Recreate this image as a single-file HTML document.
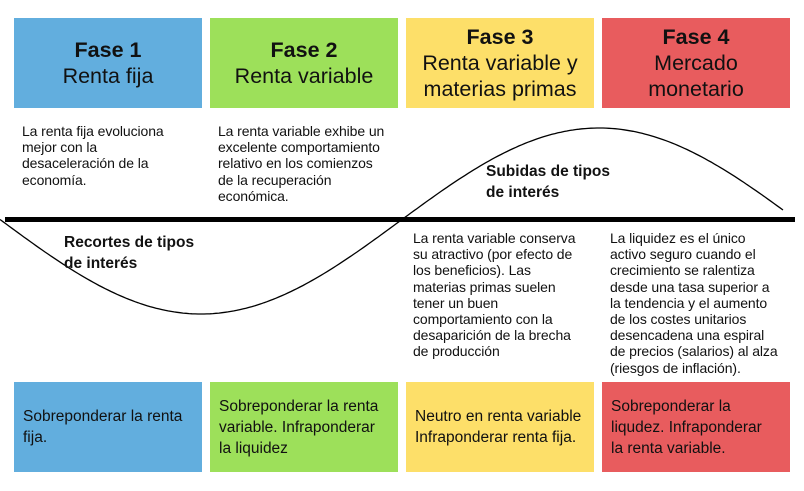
<!DOCTYPE html>
<html><head><meta charset="utf-8"><style>
body{margin:0;width:804px;height:491px;background:#fff;position:relative;overflow:hidden;font-family:"Liberation Sans",Arial,sans-serif;color:#111}
.b{position:absolute;width:188px;height:90px;display:flex;flex-direction:column;justify-content:center;align-items:center;text-align:center;font-size:21.5px;line-height:26px}
.b b{font-size:21.5px}
.t{position:absolute;font-size:14px;line-height:16.2px;letter-spacing:-0.1px}
.bt{position:absolute;width:188px;height:90px;display:flex;align-items:center;font-size:15.5px;line-height:21px;box-sizing:border-box;padding-left:9px}
.bl{background:#62aede}.gr{background:#9de05a}.ye{background:#fddf69}.re{background:#e85c5e}
.h{position:absolute;font-size:15.5px;font-weight:bold;line-height:21px}
</style></head><body>
<div class="b bl" style="left:14px;top:18px"><b>Fase 1</b>Renta fija</div>
<div class="b gr" style="left:210px;top:18px"><b>Fase 2</b>Renta variable</div>
<div class="b ye" style="left:406px;top:18px"><b>Fase 3</b>Renta variable y<br>materias primas</div>
<div class="b re" style="left:602px;top:18px"><b>Fase 4</b>Mercado<br>monetario</div>
<svg style="position:absolute;left:0;top:0" width="804" height="491">
<rect x="5" y="217" width="790" height="5" fill="#000"/>
<path id="c" fill="none" stroke="#000" stroke-width="1.3" d=""/>
</svg>
<script>
var d="";for(var x=0;x<=785;x+=3){var y=221+93*Math.sin(2*Math.PI*(x-2)/796);d+=(x?"L":"M")+x+" "+y.toFixed(1);}
document.getElementById("c").setAttribute("d",d);
</script>
<div class="t" style="left:22px;top:123px">La renta fija evoluciona<br>mejor con la<br>desaceleración de la<br>economía.</div>
<div class="t" style="left:218px;top:123px">La renta variable exhibe un<br>excelente comportamiento<br>relativo en los comienzos<br>de la recuperación<br>económica.</div>
<div class="h" style="left:64px;top:232px">Recortes de tipos<br>de interés</div>
<div class="h" style="left:486px;top:161px">Subidas de tipos<br>de interés</div>
<div class="t" style="left:413px;top:230px">La renta variable conserva<br>su atractivo (por efecto de<br>los beneficios). Las<br>materias primas suelen<br>tener un buen<br>comportamiento con la<br>desaparición de la brecha<br>de producción</div>
<div class="t" style="left:610px;top:230px">La liquidez es el único<br>activo seguro cuando el<br>crecimiento se ralentiza<br>desde una tasa superior a<br>la tendencia y el aumento<br>de los costes unitarios<br>desencadena una espiral<br>de precios (salarios) al alza<br>(riesgos de inflación).</div>
<div class="bt bl" style="left:14px;top:382px">Sobreponderar la renta<br>fija.</div>
<div class="bt gr" style="left:210px;top:382px">Sobreponderar la renta<br>variable. Infraponderar<br>la liquidez</div>
<div class="bt ye" style="left:406px;top:382px">Neutro en renta variable<br>Infraponderar renta fija.</div>
<div class="bt re" style="left:602px;top:382px">Sobreponderar la<br>liqudez. Infraponderar<br>la renta variable.</div>
</body></html>
